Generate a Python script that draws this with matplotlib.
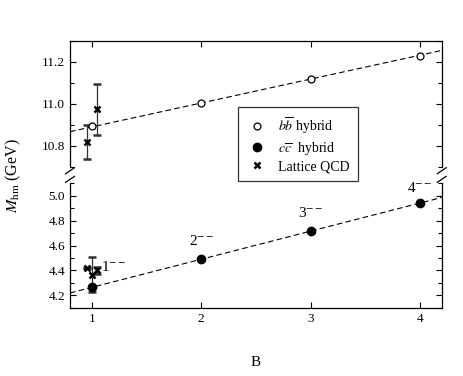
import matplotlib
matplotlib.use('Agg')
import matplotlib.pyplot as plt
from matplotlib.lines import Line2D
from matplotlib.ticker import MultipleLocator

matplotlib.rcParams['font.family'] = ['Liberation Serif', 'DejaVu Serif']
matplotlib.rcParams['mathtext.fontset'] = 'stix'
matplotlib.rcParams['font.size'] = 9.5

# data
B = [1, 2, 3, 4]
bb_hybrid = [10.893, 11.005, 11.118, 11.23]
cc_hybrid = [4.266, 4.49, 4.716, 4.94]
line_x = [0.8, 4.2]
bb_line = [10.868, 11.255]
cc_line = [4.22, 4.985]

lat_bb_x = [0.955, 1.05]
lat_bb_y = [10.82, 10.975]
lat_bb_err = [0.08, 0.122]
lat_cc_x = [0.955, 1.0, 1.05]
lat_cc_y = [4.417, 4.365, 4.40]
lat_cc_err = [0.0, 0.14, 0.03]

state_labels = ['1$^{--}$', '2$^{--}$', '3$^{--}$', '4$^{--}$']
label_x = [1.2, 2.0, 3.0, 4.0]
label_y = [4.43, 4.64, 4.86, 5.06]

fig = plt.figure(figsize=(4.63, 3.76), dpi=100)
ax_top = fig.add_axes([0.1512, 0.556, 0.8028, 0.335])
ax_bot = fig.add_axes([0.1512, 0.181, 0.8028, 0.332])

for ax in (ax_top, ax_bot):
    ax.set_xlim(0.8, 4.2)
    ax.set_xticks(B)
    ax.tick_params(direction='in', which='both', right=True, length=4, width=0.8)
    ax.tick_params(which='minor', length=3)
    for s in ax.spines.values():
        s.set_linewidth(0.9)

# upper panel (bb)
ax_top.set_ylim(10.7, 11.3)
ax_top.yaxis.set_major_locator(MultipleLocator(0.2))
ax_top.yaxis.set_minor_locator(MultipleLocator(0.1))
ax_top.yaxis.set_major_formatter(matplotlib.ticker.FormatStrFormatter('%.1f'))
ax_top.spines['bottom'].set_visible(False)
ax_top.tick_params(axis='x', bottom=False, top=True, labelbottom=False)
ax_top.plot(line_x, bb_line, color='black', lw=0.8, dashes=(5, 3))
ax_top.errorbar(lat_bb_x, lat_bb_y, yerr=lat_bb_err, fmt='x', color='black', ms=4.5, mew=1.8,
                ecolor='#333333', elinewidth=0.9, capsize=3, capthick=0.9)
ax_top.plot(B, bb_hybrid, 'o', mfc='white', mec='black', ms=5, mew=0.9)

# lower panel (cc)
ax_bot.set_ylim(4.1, 5.1)
ax_bot.yaxis.set_major_locator(MultipleLocator(0.2))
ax_bot.yaxis.set_minor_locator(MultipleLocator(0.1))
ax_bot.yaxis.set_major_formatter(matplotlib.ticker.FormatStrFormatter('%.1f'))
ax_bot.set_yticks([4.2, 4.4, 4.6, 4.8, 5.0])
ax_bot.spines['top'].set_visible(False)
ax_bot.tick_params(axis='x', top=False)
ax_bot.plot(line_x, cc_line, color='black', lw=0.8, dashes=(5, 3))
ax_bot.errorbar(lat_cc_x, lat_cc_y, yerr=lat_cc_err, fmt='x', color='black', ms=4.5, mew=1.8,
                ecolor='#333333', elinewidth=0.9, capsize=3, capthick=0.9)
ax_bot.plot(B, cc_hybrid, 'o', color='black', ms=6)
for lx, ly, t in zip(label_x, label_y, state_labels):
    ax_bot.text(lx, ly, t, ha='center', va='center', fontsize=11)

# break marks
d = 0.012
kw = dict(color='black', lw=0.9, clip_on=False)
for xx in (0.0, 1.0):
    ax_top.plot([xx - d, xx + d], [-0.03 - 2 * d, -0.03 + 2 * d], transform=ax_top.transAxes, **kw)
    ax_bot.plot([xx - d, xx + d], [1.03 - 2 * d, 1.03 + 2 * d], transform=ax_bot.transAxes, **kw)

fig.text(0.03, 0.532, '$M_{\\rm hm}$ (GeV)', rotation=90, ha='center', va='center', fontsize=11.5)
fig.text(0.553, 0.037, 'B', ha='center', va='center', fontsize=11)

handles = [
    Line2D([], [], ls='none', marker='o', mfc='white', mec='black', ms=5, mew=0.9),
    Line2D([], [], ls='none', marker='o', color='black', ms=6),
    Line2D([], [], ls='none', marker='x', color='black', ms=4.5, mew=1.8),
]
labels = ['$b\\overline{b}$ hybrid', '$c\\overline{c}$  hybrid', 'Lattice QCD']
leg = fig.legend(handles, labels, loc='center', bbox_to_anchor=(0.644, 0.616),
                 frameon=True, fancybox=False, edgecolor='black', fontsize=10,
                 handlelength=1.5, borderpad=0.6, labelspacing=0.25, borderaxespad=0)
leg.get_frame().set_linewidth(0.9)

fig.savefig('out.png', dpi=100)
